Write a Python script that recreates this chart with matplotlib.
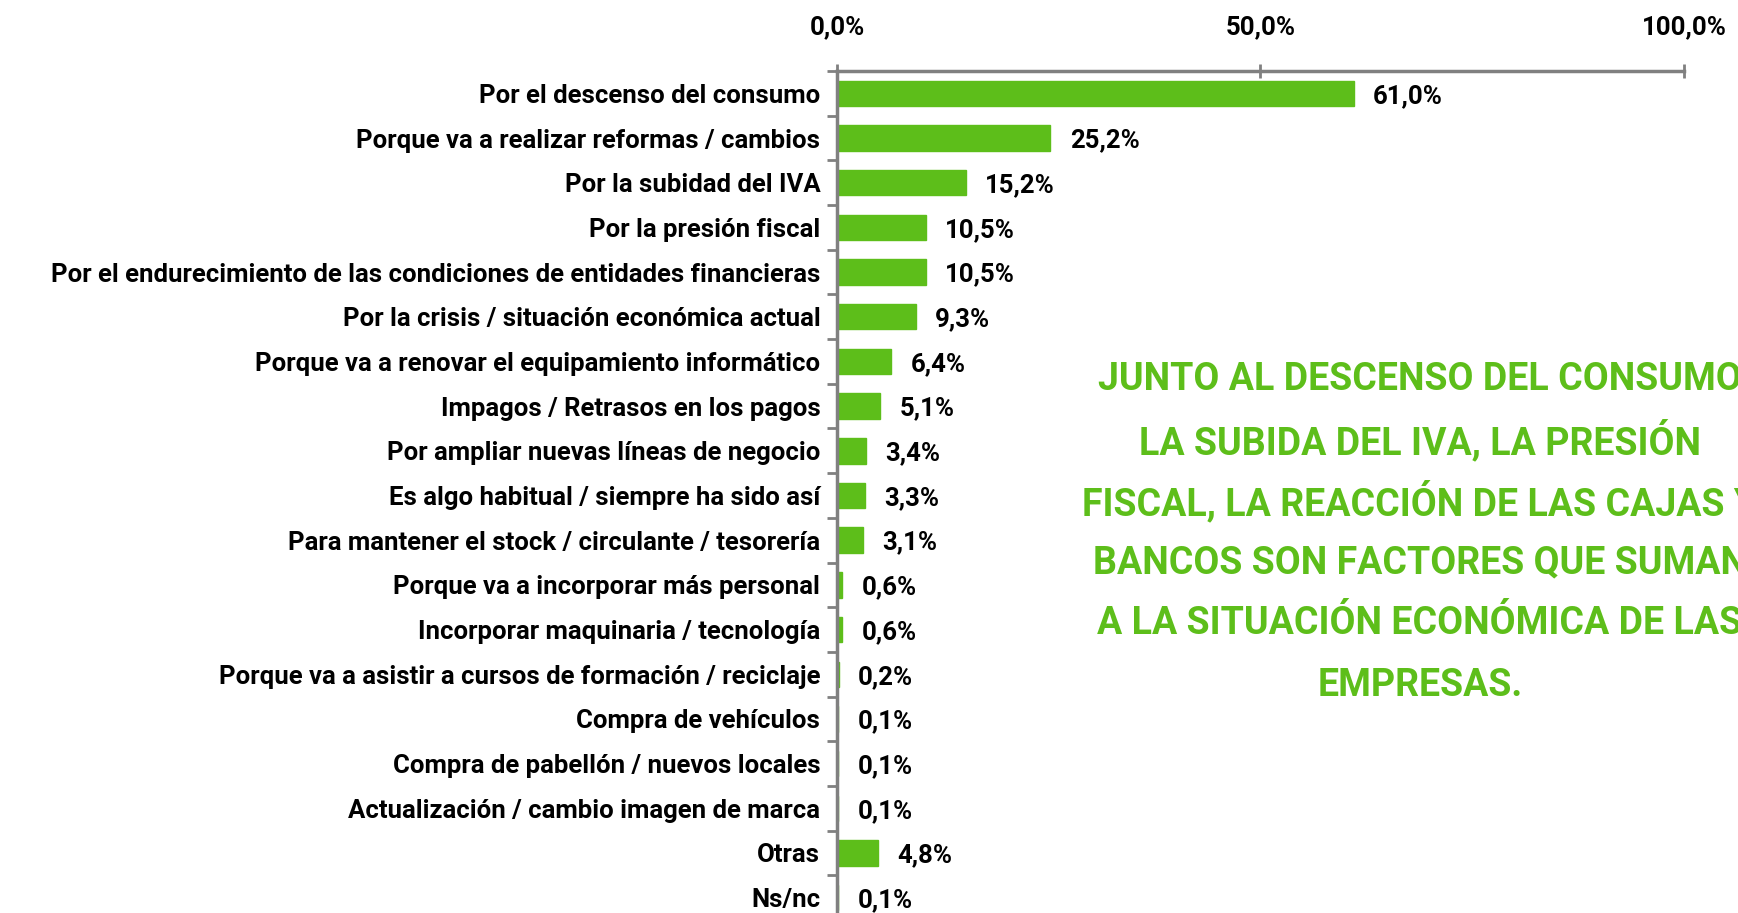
import numpy as np
import matplotlib.pyplot as plt
from matplotlib.ticker import FixedLocator

# Datos
categorias = [
    "Por el descenso del consumo",
    "Porque va a realizar reformas / cambios",
    "Por la subidad del IVA",
    "Por la presión fiscal",
    "Por el endurecimiento de las condiciones de entidades financieras",
    "Por la crisis / situación económica actual",
    "Porque va a renovar el equipamiento informático",
    "Impagos / Retrasos en los pagos",
    "Por ampliar nuevas líneas de negocio",
    "Es algo habitual / siempre ha sido así",
    "Para mantener el stock / circulante / tesorería",
    "Porque va a incorporar más personal",
    "Incorporar maquinaria / tecnología",
    "Porque va a asistir a cursos de formación / reciclaje",
    "Compra de vehículos",
    "Compra de pabellón / nuevos locales",
    "Actualización / cambio imagen de marca",
    "Otras",
    "Ns/nc",
]
valores = [61.0, 25.2, 15.2, 10.5, 10.5, 9.3, 6.4, 5.1, 3.4, 3.3, 3.1,
           0.6, 0.6, 0.2, 0.1, 0.1, 0.1, 4.8, 0.1]
ticks_x = [0, 50, 100]
lineas = [
    "JUNTO AL DESCENSO DEL CONSUMO",
    "LA SUBIDA DEL IVA, LA PRESIÓN",
    "FISCAL, LA REACCIÓN DE LAS CAJAS Y",
    "BANCOS SON FACTORES QUE SUMAN",
    "A LA SITUACIÓN ECONÓMICA DE LAS",
    "EMPRESAS.",
]

verde = "#5dbe1a"
gris = "#808080"
plt.rcParams['font.family'] = ['Roboto', 'DejaVu Sans']

fig = plt.figure(figsize=(17.38, 9.13), dpi=100)
ax = fig.add_axes([837 / 1738, -7 / 913, (1684 - 837) / 1738, (920 - 71) / 913])

y = np.arange(len(categorias))
ax.barh(y, valores, height=0.57, color=verde, edgecolor=verde, linewidth=1)
ax.set_xlim(0, 100)
ax.set_ylim(len(categorias) - 0.5, -0.5)

# eje superior
ax.xaxis.tick_top()
ax.set_xticks(ticks_x)
ax.set_xticklabels([f"{v:.1f}%".replace(".", ",") for v in ticks_x],
                   fontsize=18.5, fontweight="bold")
ax.tick_params(axis="x", direction="inout", length=10, width=2, color=gris, pad=18)

ax.set_yticks(y)
ax.set_yticklabels(categorias, fontsize=18.5, fontweight="bold")
ax.tick_params(axis="y", which="major", length=0, pad=12)
ax.yaxis.set_minor_locator(FixedLocator(np.arange(-0.5, len(categorias), 1)))
ax.tick_params(axis="y", which="minor", length=7, width=2, color=gris)

for s in ["right", "bottom"]:
    ax.spines[s].set_visible(False)
for s in ["left", "top"]:
    ax.spines[s].set_color(gris)
    ax.spines[s].set_linewidth(2.5)

# etiquetas de valor
for yi, v in zip(y, valores):
    ax.annotate(f"{v:.1f}%".replace(".", ","), xy=(v, yi), xytext=(14, 0),
                textcoords="offset points", ha="left", va="center_baseline",
                fontsize=18.5, fontweight="bold")

# texto de la derecha
for i, linea in enumerate(lineas):
    fig.text(1420 / 1738, 1 - (380 + 61 * i) / 913, linea, ha="center", va="center",
             color=verde, fontsize=27, fontweight="bold")

fig.savefig("out.png", dpi=100)
